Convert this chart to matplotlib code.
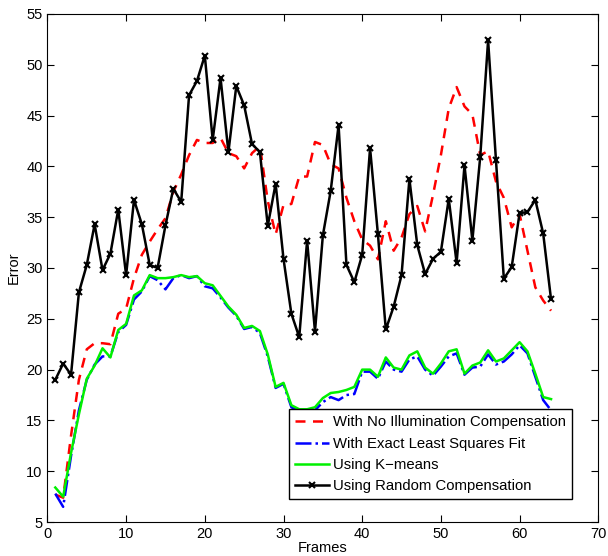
import numpy as np
import matplotlib
matplotlib.use('Agg')
import matplotlib.pyplot as plt

plt.rcParams['font.family'] = ['Liberation Sans', 'DejaVu Sans']

frames = np.arange(1, 65)

# Sem compensação (vermelho tracejado)
no_comp = [7.7, 7.4, 13.5, 19.0, 22.0, 22.6, 22.6, 22.5, 25.5, 26.0,
           29.0, 31.3, 32.6, 33.8, 34.9, 37.5, 39.2, 41.1, 42.6, 42.3,
           42.3, 42.8, 41.3, 41.0, 39.8, 41.3, 42.0, 36.6, 33.3, 36.2,
           36.3, 39.0, 39.0, 42.4, 42.1, 40.2, 39.8, 36.9, 34.6, 32.8,
           32.2, 30.85, 34.6, 31.7, 33.0, 35.3, 36.1, 33.6, 37.2, 41.1,
           45.7, 47.8, 45.9, 45.1, 41.1, 41.5, 38.5, 36.9, 34.0, 35.3,
           31.7, 28.1, 26.8, 25.8]

# Mínimos quadrados (azul traço-ponto)
least_sq = [7.8, 6.5, 11.5, 16.0, 19.0, 20.5, 21.3, 21.3, 23.7, 24.4,
            26.9, 27.7, 29.2, 28.8, 27.9, 29.0, 29.3, 29.0, 29.2, 28.2,
            28.0, 27.1, 26.1, 25.3, 24.0, 24.2, 23.6, 21.3, 18.2, 18.6,
            16.3, 15.9, 15.9, 16.0, 16.8, 17.3, 17.0, 17.5, 17.6, 19.8,
            19.8, 19.1, 20.8, 20.0, 19.8, 21.0, 21.3, 20.0, 19.4, 20.3,
            21.3, 21.6, 19.5, 20.2, 20.3, 21.5, 20.5, 20.8, 21.5, 22.4,
            21.6, 19.3, 17.0, 16.0]

# K-means (verde)
kmeans = [8.4, 7.5, 11.8, 15.6, 19.1, 20.4, 22.1, 21.2, 23.9, 24.5,
          27.3, 27.8, 29.3, 29.0, 29.0, 29.1, 29.3, 29.1, 29.2, 28.5,
          28.3, 27.25, 26.2, 25.4, 24.1, 24.3, 23.8, 21.5, 18.3, 18.7,
          16.5, 16.1, 16.1, 16.3, 17.2, 17.7, 17.8, 18.0, 18.3, 20.0,
          20.0, 19.3, 21.2, 20.2, 20.0, 21.4, 21.8, 20.2, 19.6, 20.6,
          21.8, 22.0, 19.6, 20.4, 20.7, 21.9, 20.8, 21.1, 21.9, 22.7,
          21.8, 19.6, 17.3, 17.1]

# Compensação aleatória (preto com x)
random_comp = [19.0, 20.6, 19.5, 27.6, 30.3, 34.3, 29.8, 31.4, 35.75, 29.3,
               36.7, 34.3, 30.3, 30.0, 34.2, 37.8, 36.5, 47.0, 48.4, 50.9,
               42.6, 48.7, 41.4, 47.9, 46.0, 42.2, 41.4, 34.15, 38.3, 30.9,
               25.5, 23.2, 32.7, 23.75, 33.2, 37.6, 44.05, 30.3, 28.6, 31.3,
               41.8, 33.3, 23.95, 26.2, 29.3, 38.75, 32.25, 29.4, 30.9, 31.6,
               36.8, 30.5, 40.1, 32.7, 40.95, 52.4, 40.6, 28.95, 30.1, 35.4,
               35.5, 36.7, 33.4, 26.9]

fig = plt.figure(figsize=(6.08, 5.56), dpi=100)
ax = fig.add_axes([0.078, 0.061, 0.906, 0.914])

ax.plot(frames, no_comp, color='r', linestyle='--', linewidth=1.8,
        dashes=(4, 3), label='With No Illumination Compensation')
ax.plot(frames, least_sq, color='b', linestyle='-.', linewidth=1.8,
        label='With Exact Least Squares Fit')
ax.plot(frames, kmeans, color='#00f000', linestyle='-', linewidth=1.8,
        label='Using K\u2212means')
ax.plot(frames, random_comp, color='k', linestyle='-', linewidth=1.8,
        marker='x', markersize=4, markeredgewidth=1.5,
        label='Using Random Compensation')

ax.set_xlim(0, 70)
ax.set_ylim(5, 55)
ax.set_xticks(np.arange(0, 71, 10))
ax.set_yticks(np.arange(5, 56, 5))
ax.tick_params(direction='in', top=True, right=True, length=5, labelsize=10.5)
ax.set_xlabel('Frames', fontsize=10.5, labelpad=0)
ax.set_ylabel('Error', fontsize=10.5, labelpad=4)

leg = ax.legend(loc='lower right', fontsize=10.7, fancybox=False,
                framealpha=1, edgecolor='k', handlelength=2.3,
                handletextpad=0.27, borderpad=0.4, labelspacing=0.49,
                borderaxespad=0, bbox_to_anchor=(0.952, 0.045))
leg.get_frame().set_linewidth(1.0)

fig.savefig('out.png', dpi=100)
